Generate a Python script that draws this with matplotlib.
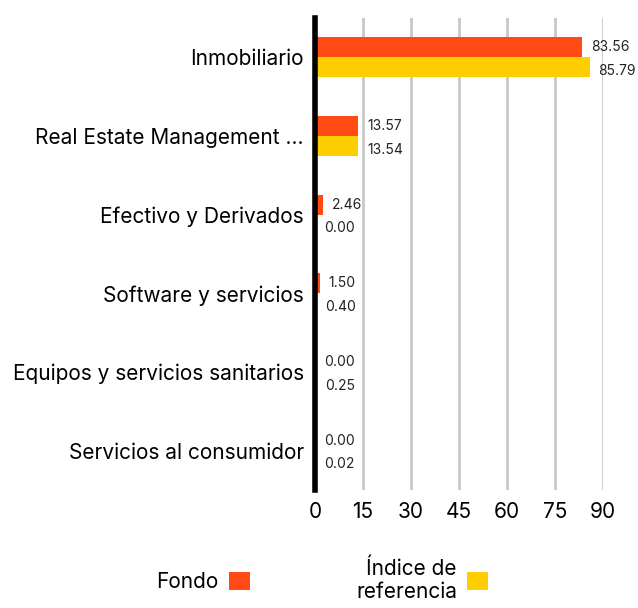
import numpy as np
import matplotlib.pyplot as plt

# sector breakdown, fund vs benchmark (%)
categories = ['Inmobiliario', 'Real Estate Management ...', 'Efectivo y Derivados',
              'Software y servicios', 'Equipos y servicios sanitarios',
              'Servicios al consumidor']
fondo = [83.56, 13.57, 2.46, 1.50, 0.00, 0.00]
indice = [85.79, 13.54, 0.00, 0.40, 0.25, 0.02]
xticks = [0, 15, 30, 45, 60, 75, 90]

orange = '#FF4A14'
yellow = '#FFCE00'

plt.rcParams['font.family'] = ['Inter', 'DejaVu Sans']

fig = plt.figure(figsize=(6.38, 6.08), dpi=100)
ax = fig.add_axes([315 / 638, 1 - 490 / 608, 288 / 638, 472 / 608])

y = np.arange(len(categories))
h = 0.256
b1 = ax.barh(y - h / 2, fondo, height=h, color=orange, label='Fondo', zorder=3)
b2 = ax.barh(y + h / 2, indice, height=h, color=yellow, label='Índice de\nreferencia', zorder=3)

for bars, vals, dy in [(b1, fondo, 0), (b2, indice, -2.5)]:
    for rect, v in zip(bars, vals):
        ax.annotate(f'{v:.2f}', (v, rect.get_y() + rect.get_height() / 2),
                    xytext=(6.5, dy), textcoords='offset points', va='center', ha='left',
                    fontsize=10, color='#222222', clip_on=False)

ax.set_xlim(0, 90)
ax.set_ylim(len(categories) - 0.5, -0.5)
ax.set_xticks(xticks)
ax.set_yticks(y)
ax.set_yticklabels(categories)
ax.tick_params(axis='y', length=0, pad=8, labelsize=15)
ax.tick_params(axis='x', length=0, pad=9, labelsize=15)
ax.xaxis.grid(True, color='#c8c8c8', linewidth=2, zorder=0)
for s in ['top', 'right', 'bottom']:
    ax.spines[s].set_visible(False)
ax.spines['left'].set_linewidth(4)
ax.spines['left'].set_color('black')
ax.spines['left'].set_zorder(4)

leg = fig.legend(handles=[b1, b2], loc='center', bbox_to_anchor=(0.505, 1 - 580 / 608),
                 ncol=2, frameon=False, markerfirst=False, fontsize=15,
                 handlelength=1.0, handleheight=1.0, columnspacing=5.1, handletextpad=0.5)
for t in leg.get_texts():
    t.set_multialignment('right')

fig.savefig('out.png', dpi=100)
